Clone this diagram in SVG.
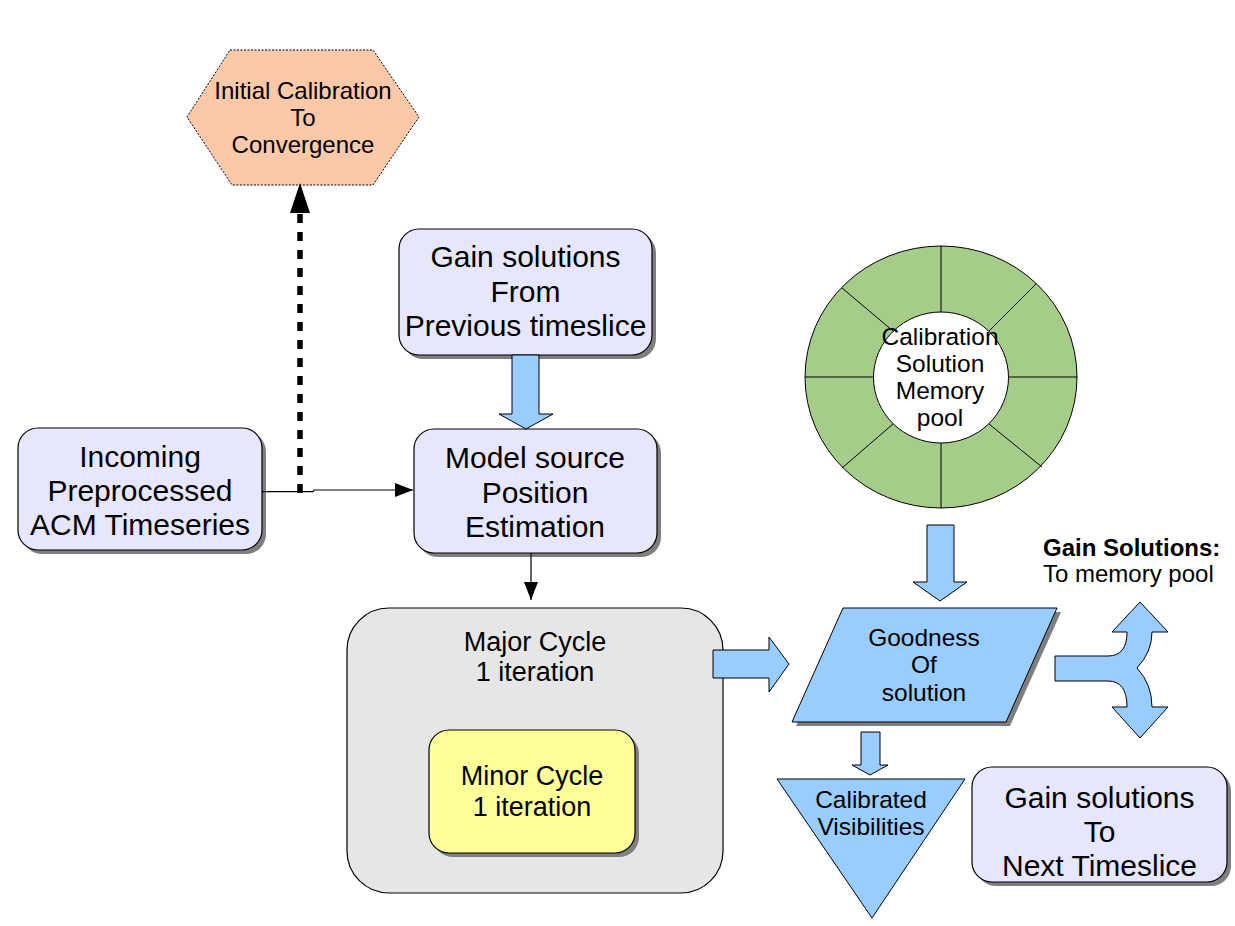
<svg xmlns="http://www.w3.org/2000/svg" width="1235" height="926" viewBox="0 0 1235 926">
<defs>
<style>
text{font-family:"Liberation Sans",Arial,sans-serif;fill:#000;text-anchor:middle}
.box{fill:#e6e6fc;stroke:#000;stroke-width:1.2}
.shadow{fill:#7f7f7f}
.blk{fill:#99ccff;stroke:#000;stroke-width:1}
.t30{font-size:30px}
.t27{font-size:27px}
.t24{font-size:24.5px}
.thin{stroke:#000;stroke-width:1.2;fill:none}
</style>
<marker id="ah" markerWidth="18" markerHeight="14" refX="18" refY="7" orient="auto" markerUnits="userSpaceOnUse">
<path d="M0,0 L18,7 L0,14 Z" fill="#000"/>
</marker>
</defs>

<g id="initial-calibration">
<path d="M230,50 L373,50 L419,117 L373,185 L232,185 L187,117 Z" fill="#fbc9a8" stroke="#000" stroke-width="1" stroke-dasharray="2 1.5"/>
<text x="303" y="99" style="font-size:24px">Initial Calibration</text>
<text x="303" y="126" style="font-size:24px">To</text>
<text x="303" y="153" style="font-size:24px">Convergence</text>
</g>

<g id="gain-from-previous">
<rect class="shadow" x="403" y="233" width="253" height="126" rx="20"/>
<rect class="box" x="399" y="229" width="253" height="126" rx="20"/>
<text class="t30" x="525.5" y="267">Gain solutions</text>
<text class="t30" x="525.5" y="302">From</text>
<text class="t30" x="525.5" y="336">Previous timeslice</text>
</g>

<g id="incoming">
<rect class="shadow" x="22" y="432" width="244" height="122" rx="20"/>
<rect class="box" x="18" y="428" width="244" height="122" rx="20"/>
<text class="t30" x="140" y="467">Incoming</text>
<text class="t30" x="140" y="501">Preprocessed</text>
<text class="t30" x="140" y="535">ACM Timeseries</text>
</g>

<g id="model-source">
<rect class="shadow" x="418" y="433" width="243" height="124" rx="20"/>
<rect class="box" x="414" y="429" width="243" height="124" rx="20"/>
<text class="t30" x="535" y="468">Model source</text>
<text class="t30" x="535" y="503">Position</text>
<text class="t30" x="535" y="537">Estimation</text>
</g>

<g id="memory-pool">
<ellipse cx="941" cy="377" rx="136" ry="131" fill="#a6cc8a" stroke="#000" stroke-width="1"/>
<g stroke="#000" stroke-width="1">
<line x1="941" y1="246" x2="941" y2="312"/>
<line x1="941" y1="443" x2="941" y2="508"/>
<line x1="805" y1="377" x2="873" y2="377"/>
<line x1="1008" y1="377" x2="1077" y2="377"/>
<line x1="842" y1="288" x2="893" y2="331"/>
<line x1="1036" y1="284" x2="989" y2="331"/>
<line x1="842" y1="468" x2="893" y2="424"/>
<line x1="1042" y1="467" x2="989" y2="424"/>
</g>
<ellipse cx="941" cy="377.5" rx="67.5" ry="65.5" fill="#fff" stroke="#000" stroke-width="1"/>
<text class="t24" x="940" y="345">Calibration</text>
<text class="t24" x="940" y="372">Solution</text>
<text class="t24" x="940" y="399">Memory</text>
<text class="t24" x="940" y="426">pool</text>
</g>

<g id="major-cycle">
<rect x="347" y="608" width="376" height="285" rx="42" fill="#e6e6e6" stroke="#000" stroke-width="1.2"/>
<text class="t27" x="535" y="651">Major Cycle</text>
<text class="t27" x="535" y="681">1 iteration</text>
</g>

<g id="minor-cycle">
<rect class="shadow" x="433" y="734" width="206" height="123" rx="20"/>
<rect x="429" y="730" width="206" height="123" rx="20" fill="#ffff99" stroke="#000" stroke-width="1.2"/>
<text class="t27" x="532" y="785">Minor Cycle</text>
<text class="t27" x="532" y="816">1 iteration</text>
</g>

<g id="goodness">
<path class="shadow" d="M847,612 L1061,612 L1010,726 L796,726 Z"/>
<path class="blk" d="M843,608 L1057,608 L1006,722 L792,722 Z"/>
<text class="t24" x="924" y="646">Goodness</text>
<text class="t24" x="924" y="673">Of</text>
<text class="t24" x="924" y="701">solution</text>
</g>

<g id="calibrated-visibilities">
<path class="blk" d="M777,779 L965,779 L872,918 Z"/>
<text class="t24" x="871" y="808">Calibrated</text>
<text class="t24" x="871" y="835">Visibilities</text>
</g>

<g id="gain-label">
<text x="1043" y="556" style="font-size:24px;font-weight:bold;text-anchor:start">Gain Solutions:</text>
<text x="1043" y="582" style="font-size:24px;text-anchor:start">To memory pool</text>
</g>

<g id="gain-to-next">
<rect class="shadow" x="976" y="771" width="255" height="115" rx="20"/>
<rect class="box" x="972" y="767" width="255" height="115" rx="20"/>
<text class="t30" x="1099.5" y="808">Gain solutions</text>
<text class="t30" x="1099.5" y="842">To</text>
<text class="t30" x="1099.5" y="876">Next Timeslice</text>
</g>

<g id="connectors">
<path class="thin" d="M262,491.7 L313,491.7 L314,490 L413,490" marker-end="url(#ah)"/>
<line x1="300" y1="493" x2="300" y2="214" stroke="#000" stroke-width="5.5" stroke-dasharray="9 9"/>
<path d="M290,213 L300,183 L310,213 Z" fill="#000"/>
<path class="thin" d="M531,553 L531,600" marker-end="url(#ah)"/>
<path class="blk" d="M512,355 L539,355 L539,414 L553,414 L526,429 L499,414 L512,414 Z"/>
<path class="blk" d="M713,650 L769,650 L769,637 L789,664 L769,692 L769,678 L713,678 Z"/>
<path class="blk" d="M927,525 L954,525 L954,582 L967,582 L940,601 L913,582 L927,582 Z"/>
<path class="blk" d="M861,732 L880,732 L880,765 L888,765 L870,775 L852,765 L861,765 Z"/>
<path class="blk" d="M1055,656 L1108,656 Q1127,656 1127,632 L1112,632 L1140,602 L1168,632 L1152,632 Q1152,652 1137,668 Q1152,684 1152,707 L1168,707 L1140,738 L1112,707 L1127,707 Q1127,681 1108,681 L1055,681 Z"/>
</g>
</svg>
